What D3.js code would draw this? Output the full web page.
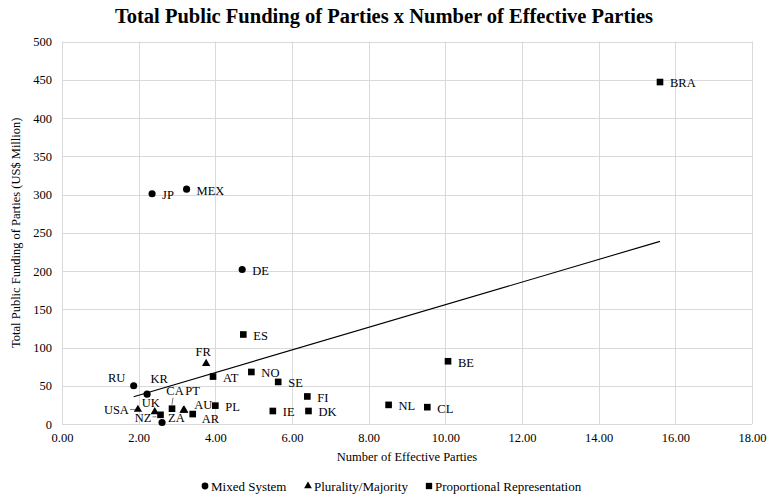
<!DOCTYPE html>
<html><head><meta charset="utf-8">
<script src="https://cdn.jsdelivr.net/npm/d3@7"></script>
<style>
html,body{margin:0;padding:0;background:#fff;}
text{font-family:"Liberation Serif","Times New Roman",serif;fill:#000;}
</style></head>
<body>
<svg id="chart" width="767" height="495"></svg>
<script>
// ---- data ----
const countries = ["BRA","JP","MEX","DE","ES","BE","NL","CL","FR","AT","NO","SE","FI","DK","IE","PL","AR","CA","PT","AU","NZ","ZA","UK","USA","RU","KR"];
const effectiveParties = [15.60,2.35,3.25,4.70,4.73,10.07,8.52,9.53,3.76,3.94,4.94,5.64,6.40,6.43,5.50,4.00,3.41,2.87,3.17,3.19,2.57,2.61,2.42,1.98,1.87,2.22];
const publicFunding = [447,301,307,202,117,82,25,22,79,62,68,55,36,17,17,24,13,20,18,18,12,2,16,19,50,39];
const systems = ["PR","Mixed","Mixed","Mixed","PR","PR","PR","PR","Plurality","PR","PR","PR","PR","PR","PR","PR","PR","PR","Plurality","Plurality","PR","Mixed","Plurality","Plurality","Mixed","Mixed"];
const systemKeys = ["Mixed","Plurality","PR"];
const systemNames = ["Mixed System","Plurality/Majority","Proportional Representation"];
const xTicks = [0,2,4,6,8,10,12,14,16,18];
const yTicks = [0,50,100,150,200,250,300,350,400,450,500];

// label placement (offsets from marker, in px)
const labelPos = {
  RU:{dx:-17,dy:-8,anchor:"middle"},
  KR:{dx:12,dy:-16,anchor:"middle"},
  FR:{dx:-3,dy:-12,anchor:"middle"},
  USA:{dx:-9,dy:0,anchor:"end",leader:[-8,0,-3,0]},
  UK:{dx:-4,dy:-9,anchor:"middle"},
  NZ:{dx:-9,dy:3,anchor:"end",leader:[-8,2,-4,2]},
  ZA:{dx:6,dy:-5,anchor:"start"},
  CA:{dx:3,dy:-18,anchor:"middle",leader:[1,-11,0,-4]},
  PT:{dx:9,dy:-19.5,anchor:"middle"},
  AU:{dx:19,dy:-5.5,anchor:"middle"},
  AR:{dx:9,dy:5,anchor:"start"}
};

const data = countries.map((c,i)=>({c, x:effectiveParties[i], y:publicFunding[i], s:systems[i]}));

const svg = d3.select("#chart");
const x = d3.scaleLinear().domain([0,18]).range([62,752]);
const y = d3.scaleLinear().domain([0,500]).range([424,41.5]);
const grid = "#d9d9d9";

// gridlines
svg.append("g").selectAll("line").data(yTicks).join("line")
  .attr("x1",x(0)).attr("x2",x(18))
  .attr("y1",d=>Math.round(y(d))+0.5).attr("y2",d=>Math.round(y(d))+0.5)
  .attr("stroke",grid).attr("stroke-width",1);
svg.append("g").selectAll("line").data(xTicks).join("line")
  .attr("y1",y(0)).attr("y2",y(500))
  .attr("x1",d=>Math.round(x(d))+0.5).attr("x2",d=>Math.round(x(d))+0.5)
  .attr("stroke",grid).attr("stroke-width",1);

// axes (labels only)
const gy = svg.append("g").attr("transform",`translate(${x(0)},0)`)
  .call(d3.axisLeft(y).tickValues(yTicks).tickSize(0).tickPadding(10).tickFormat(d3.format("d")));
gy.attr("font-family",null);
gy.select(".domain").remove();
gy.selectAll("text").style("font-family","Liberation Serif").style("font-size","12.5px").attr("fill","#000");
const gx = svg.append("g").attr("transform",`translate(0,${y(0)})`)
  .call(d3.axisBottom(x).tickValues(xTicks).tickSize(0).tickPadding(9).tickFormat(d3.format(".2f")));
gx.attr("font-family",null);
gx.select(".domain").remove();
gx.selectAll("text").style("font-family","Liberation Serif").style("font-size","12.5px").attr("fill","#000");

// titles
svg.append("text").attr("x",384).attr("y",23).attr("text-anchor","middle")
  .style("font-size","20.5px").style("font-weight","bold")
  .text("Total Public Funding of Parties x Number of Effective Parties");
svg.append("text").attr("x",(x(0)+x(18))/2).attr("y",461).attr("text-anchor","middle")
  .style("font-size","12.5px").text("Number of Effective Parties");
svg.append("text").attr("transform",`translate(20,${(y(0)+y(500))/2}) rotate(-90)`).attr("text-anchor","middle")
  .style("font-size","12.5px").text("Total Public Funding of Parties (US$ Million)");

// trendline (least squares)
const mx = d3.mean(data,d=>d.x), my = d3.mean(data,d=>d.y);
const slope = d3.sum(data,d=>(d.x-mx)*(d.y-my))/d3.sum(data,d=>(d.x-mx)**2);
const icpt = my - slope*mx;
const [x0,x1] = d3.extent(data,d=>d.x);
svg.append("line").attr("x1",x(x0)).attr("y1",y(icpt+slope*x0))
  .attr("x2",x(x1)).attr("y2",y(icpt+slope*x1))
  .attr("stroke","#000").attr("stroke-width",1.1);

// markers
const sym = {
  Mixed: d3.symbol().type(d3.symbolCircle).size(40),
  Plurality: d3.symbol().type(d3.symbolTriangle).size(30),
  PR: d3.symbol().type(d3.symbolSquare).size(44)
};
svg.append("g").selectAll("path").data(data).join("path")
  .attr("transform",d=>`translate(${x(d.x)},${y(d.y)})`)
  .attr("d",d=>sym[d.s]()).attr("fill","#000");

// labels
const lg = svg.append("g");
data.forEach(d=>{
  const p = labelPos[d.c] || {dx:10,dy:1,anchor:"start"};
  const px = x(d.x), py = y(d.y);
  lg.append("text").attr("x",px+p.dx).attr("y",py+p.dy).attr("dy","0.35em")
    .attr("text-anchor",p.anchor).style("font-size","12.5px").text(d.c);
  if (p.leader) {
    lg.append("line").attr("x1",px+p.leader[0]).attr("y1",py+p.leader[1])
      .attr("x2",px+p.leader[2]).attr("y2",py+p.leader[3])
      .attr("stroke","#595959").attr("stroke-width",0.8);
  }
});

// legend
const legX = [205,308,429];
const leg = svg.append("g");
systemKeys.forEach((k,i)=>{
  leg.append("path").attr("transform",`translate(${legX[i]},486)`)
    .attr("d",d3.symbol().type(k==="Mixed"?d3.symbolCircle:k==="Plurality"?d3.symbolTriangle:d3.symbolSquare).size(k==="Mixed"?36:k==="Plurality"?26:40)())
    .attr("fill","#000");
  leg.append("text").attr("x",legX[i]+6).attr("y",486).attr("dy","0.35em")
    .style("font-size","13px").text(systemNames[i]);
});
</script>
</body></html>
